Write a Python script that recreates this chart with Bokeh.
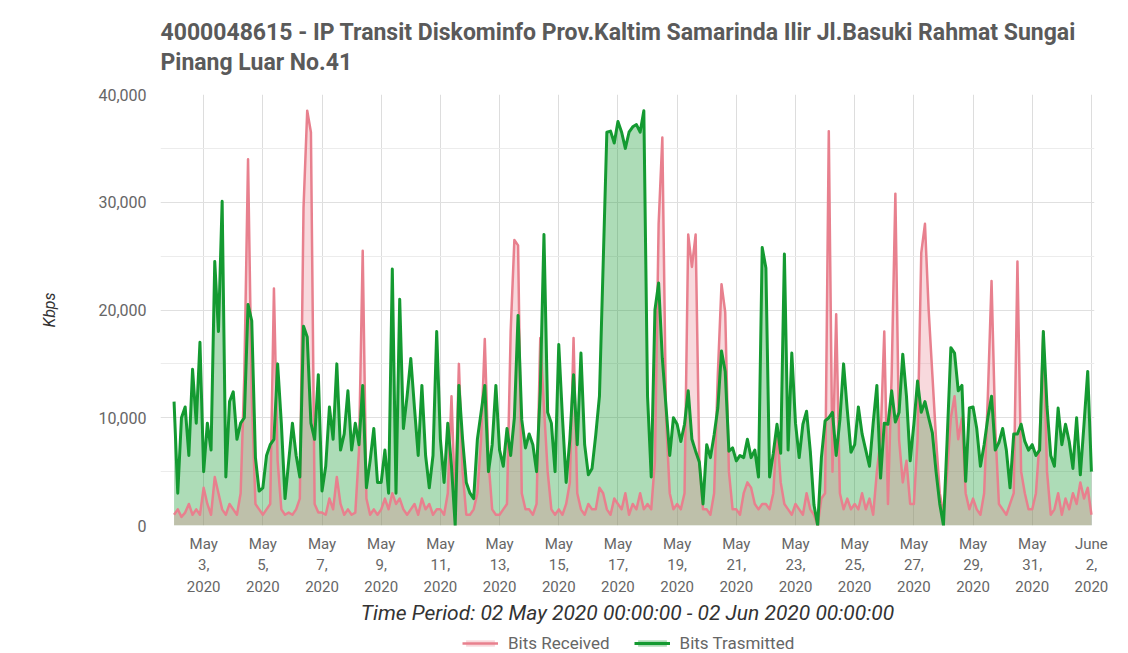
import pandas as pd
from bokeh.plotting import figure
from bokeh.layouts import column
from bokeh.models import (FixedTicker, NumeralTickFormatter, Legend, LegendItem,
                          Range1d, ColumnDataSource)
from bokeh.embed import file_html
from bokeh.resources import INLINE

# ---------------- data ----------------
title_lines = ["4000048615 - IP Transit Diskominfo Prov.Kaltim Samarinda Ilir Jl.Basuki Rahmat Sungai",
               "Pinang Luar No.41"]
series_names = ["Bits Received", "Bits Trasmitted"]
y_label = "Kbps"
x_label = "Time Period: 02 May 2020 00:00:00 - 02 Jun 2020 00:00:00"
start_time = "2020-05-02 00:00"
step = "3h"
view_start = "2020-05-01 13:00"
view_end = "2020-06-02 02:30"

tick_dates = ["2020-05-03", "2020-05-05", "2020-05-07", "2020-05-09", "2020-05-11",
              "2020-05-13", "2020-05-15", "2020-05-17", "2020-05-19", "2020-05-21",
              "2020-05-23", "2020-05-25", "2020-05-27", "2020-05-29", "2020-05-31",
              "2020-06-02"]
tick_labels = ["May\n3,\n2020", "May\n5,\n2020", "May\n7,\n2020", "May\n9,\n2020",
               "May\n11,\n2020", "May\n13,\n2020", "May\n15,\n2020", "May\n17,\n2020",
               "May\n19,\n2020", "May\n21,\n2020", "May\n23,\n2020", "May\n25,\n2020",
               "May\n27,\n2020", "May\n29,\n2020", "May\n31,\n2020", "June\n2,\n2020"]
y_ticks = [0, 10000, 20000, 30000, 40000]
y_minor_ticks = [5000, 15000, 25000, 35000]

# Kbps, one value every 3 hours from 02 May 2020 00:00 to 02 Jun 2020 00:00
bits_received = [
    1000, 1500, 800, 1200, 2000, 1000, 1500, 1000,          # May 2
    3500, 2000, 1000, 4500, 3000, 1500, 1000, 2000,         # May 3
    1500, 1000, 3000, 14000, 34000, 12000, 2000, 1500,      # May 4
    1000, 1500, 2000, 22000, 6000, 1500, 1000, 1200,        # May 5
    1000, 1500, 2500, 29500, 38500, 36500, 2000, 1200,      # May 6
    1200, 1000, 2500, 1500, 4500, 2000, 1000, 1500,         # May 7
    1000, 1200, 7000, 25500, 2500, 1000, 1500, 1000,        # May 8
    1500, 2500, 1500, 3000, 2000, 2500, 1500, 1000,         # May 9
    1500, 2000, 1000, 2500, 1500, 2000, 1000, 1500,         # May 10
    1500, 1000, 3000, 12000, 2000, 15000, 5000, 1000,       # May 11
    1000, 1500, 3000, 8000, 17300, 6000, 1500, 1000,        # May 12
    1000, 1500, 2000, 18000, 26500, 26000, 3000, 1500,      # May 13
    1500, 1000, 2000, 17400, 11000, 5000, 1500, 1000,       # May 14
    1500, 1000, 2000, 4000, 17400, 3000, 1500, 1000,        # May 15
    2000, 1500, 1500, 3500, 3000, 1500, 1000, 2500,         # May 16
    2000, 1500, 3000, 1000, 2000, 1500, 3000, 1500,         # May 17
    2000, 1500, 6000, 28000, 36000, 10000, 3000, 1500,      # May 18
    2000, 1500, 3000, 27000, 24000, 27000, 6000, 1500,      # May 19
    1500, 1000, 3000, 14000, 22400, 19800, 5000, 1500,      # May 20
    1500, 1000, 3000, 4000, 3500, 2000, 1500, 2000,         # May 21
    2000, 1500, 3000, 9000, 4000, 2000, 1500, 1000,         # May 22
    2000, 1500, 1000, 3000, 1500, 1000, 0, 2500,            # May 23
    3000, 36600, 5000, 19600, 3000, 1500, 2500, 1500,       # May 24
    2000, 1500, 3000, 1500, 2500, 1000, 5000, 8000,         # May 25
    18000, 2000, 14000, 30800, 8000, 4000, 6000, 2000,      # May 26
    2000, 8000, 25300, 28000, 20000, 14000, 8000, 3000,     # May 27
    1000, 5000, 10000, 12000, 8000, 10000, 3000, 1500,      # May 28
    2500, 1500, 1000, 3000, 12000, 22700, 9000, 2000,       # May 29
    1500, 1000, 2000, 3000, 24500, 5000, 3000, 1500,        # May 30
    1500, 3000, 8000, 18000, 5000, 1000, 1500, 3000,        # May 31
    1000, 2500, 1500, 3000, 2000, 4000, 2500, 3500,         # Jun 1
    1000,                                                   # Jun 2 00:00
]
bits_transmitted = [
    11500, 3000, 10000, 11000, 6500, 14500, 9500, 17000,    # May 2
    5000, 9500, 7000, 24500, 18000, 30100, 4500, 11500,     # May 3
    12400, 8000, 9500, 10000, 20500, 19000, 6300, 3200,     # May 4
    3500, 6500, 7500, 8000, 15000, 9500, 2500, 6000,        # May 5
    9500, 6500, 4500, 18500, 17500, 9500, 8000, 14000,      # May 6
    3200, 5500, 11000, 8000, 15000, 7000, 8500, 12500,      # May 7
    7000, 9500, 7500, 13000, 3500, 6000, 9000, 4000,        # May 8
    4000, 7000, 3000, 23800, 3000, 21000, 9000, 12000,      # May 9
    15500, 10900, 6500, 13000, 6500, 3500, 6500, 18000,     # May 10
    8000, 4000, 9500, 5500, 0, 13000, 8000, 4000,           # May 11
    3000, 2500, 8000, 10500, 13000, 5000, 7500, 13000,      # May 12
    7000, 5500, 9000, 6500, 10000, 19500, 9800, 7200,       # May 13
    8500, 7500, 5000, 12500, 27000, 10500, 9500, 5000,      # May 14
    16800, 10000, 4000, 8000, 14000, 7500, 16000, 7500,     # May 15
    4700, 5300, 8400, 12000, 24200, 36500, 36600, 35500,    # May 16
    37500, 36500, 35000, 36500, 37000, 37200, 36500, 38500, # May 17
    12000, 4500, 20000, 22500, 15500, 11000, 6500, 10000,   # May 18
    9400, 7800, 9400, 12500, 8000, 6900, 5900, 2000,        # May 19
    7500, 6300, 8400, 10900, 16200, 14300, 6900, 7200,      # May 20
    6000, 6500, 6300, 8000, 6300, 7000, 4500, 25800,        # May 21
    23900, 4500, 6700, 9400, 6700, 25200, 7000, 16000,      # May 22
    9500, 6300, 9400, 10600, 6900, 1900, 0, 6300,           # May 23
    9700, 10000, 10500, 6500, 9800, 15000, 10700, 6800,     # May 24
    7500, 11000, 8500, 7000, 5500, 9500, 13000, 4400,       # May 25
    9500, 9400, 12500, 9600, 10500, 15900, 12000, 6000,     # May 26
    9400, 13400, 10500, 11500, 10000, 8600, 5000, 2000,     # May 27
    0, 8000, 16500, 16000, 12500, 13000, 4100, 10900,       # May 28
    11000, 9000, 5500, 7500, 10000, 12000, 7000, 7700,      # May 29
    9000, 7000, 3500, 8500, 8500, 9400, 7800, 7000,         # May 30
    7500, 6500, 7000, 18000, 11000, 6500, 5500, 10900,      # May 31
    7500, 9400, 7800, 5300, 10000, 4700, 9400, 14300,       # Jun 1
    5000,                                                   # Jun 2 00:00
]

# ---------------- styles ----------------
PINK = "#e8808e"
GREEN = "#149a31"
FONT = "Roboto"

times = pd.date_range(start_time, periods=len(bits_received), freq=step)
src = ColumnDataSource(dict(t=times, rx=bits_received, tx=bits_transmitted))

p = figure(width=1112, height=627, x_axis_type="datetime",
           output_backend="svg", toolbar_location=None,
           x_range=Range1d(pd.Timestamp(view_start), pd.Timestamp(view_end)),
           y_range=Range1d(0, 40000),
           min_border_left=160, min_border_right=18, min_border_top=94,
           min_border_bottom=102)

p.title.text = "\n".join(title_lines)
p.title.text_font = FONT
p.title.text_font_style = "bold"
p.title.text_font_size = "23px"
p.title.text_color = "#5a5a5a"
p.title.text_line_height = 1.12
p.title.align = "left"
p.title.vertical_align = "top"
p.title.standoff = 33

tick_ms = [float(pd.Timestamp(d).value // 10**6) for d in tick_dates]
p.xaxis.ticker = FixedTicker(ticks=tick_ms)
p.xaxis.major_label_overrides = dict(zip(tick_ms, tick_labels))
p.xaxis.major_label_text_font = FONT
p.xaxis.major_label_text_font_size = "15px"
p.xaxis.major_label_text_color = "#666666"
p.xaxis.major_label_text_line_height = 1.2
p.xaxis.major_label_standoff = 3
p.xaxis.axis_label = x_label
p.xaxis.axis_label_text_font = FONT
p.xaxis.axis_label_text_font_style = "italic"
p.xaxis.axis_label_text_font_size = "21px"
p.xaxis.axis_label_text_color = "#333333"
p.xaxis.axis_label_standoff = 2

p.yaxis.ticker = FixedTicker(ticks=y_ticks, minor_ticks=y_minor_ticks)
p.yaxis.formatter = NumeralTickFormatter(format="0,0")
p.yaxis.major_label_text_font = FONT
p.yaxis.major_label_text_font_size = "16px"
p.yaxis.major_label_text_color = "#666666"
p.yaxis.major_label_standoff = 8
p.yaxis.axis_label = y_label
p.yaxis.axis_label_text_font = FONT
p.yaxis.axis_label_text_font_style = "italic"
p.yaxis.axis_label_text_font_size = "16px"
p.yaxis.axis_label_text_color = "#333333"
p.yaxis.axis_label_standoff = 36

p.axis.axis_line_color = None
p.axis.major_tick_line_color = None
p.axis.minor_tick_line_color = None

p.xgrid.grid_line_color = "#dddddd"
p.ygrid.grid_line_color = "#e0e0e0"
p.ygrid.minor_grid_line_color = "#ececec"
p.outline_line_color = None

p.varea(x="t", y1=0, y2="tx", source=src, fill_color=GREEN, fill_alpha=0.35)
p.varea(x="t", y1=0, y2="rx", source=src, fill_color=PINK, fill_alpha=0.3)
p.line("t", "rx", source=src, line_color=PINK, line_width=2.5, line_join="round")
p.line("t", "tx", source=src, line_color=GREEN, line_width=3, line_join="round")

# legend strip below the chart (same glyph styles, no visible data of its own)
lg = figure(width=1112, height=26, output_backend="svg", toolbar_location=None,
            x_range=Range1d(0, 1), y_range=Range1d(0, 1),
            min_border=0, outline_line_color=None)
lg.axis.visible = False
lg.grid.visible = False
blank = ColumnDataSource(dict(x=[float("nan")], y=[float("nan")]))
g_rx_f = lg.varea(x="x", y1=0, y2="y", source=blank, fill_color=PINK, fill_alpha=0.3)
g_rx_l = lg.line("x", "y", source=blank, line_color=PINK, line_width=2.5)
g_tx_f = lg.varea(x="x", y1=0, y2="y", source=blank, fill_color=GREEN, fill_alpha=0.35)
g_tx_l = lg.line("x", "y", source=blank, line_color=GREEN, line_width=3)
legend = Legend(items=[LegendItem(label=series_names[0], renderers=[g_rx_f, g_rx_l]),
                       LegendItem(label=series_names[1], renderers=[g_tx_f, g_tx_l])],
                orientation="horizontal", location=(302, 0),
                glyph_width=36, glyph_height=8, label_standoff=10,
                label_text_font=FONT,
                label_text_font_size="17px", label_text_color="#666666",
                spacing=24, padding=2, margin=0, border_line_color=None,
                background_fill_alpha=0)
lg.add_layout(legend)

open("out.html", "w").write(file_html(column(p, lg, spacing=0), INLINE))
